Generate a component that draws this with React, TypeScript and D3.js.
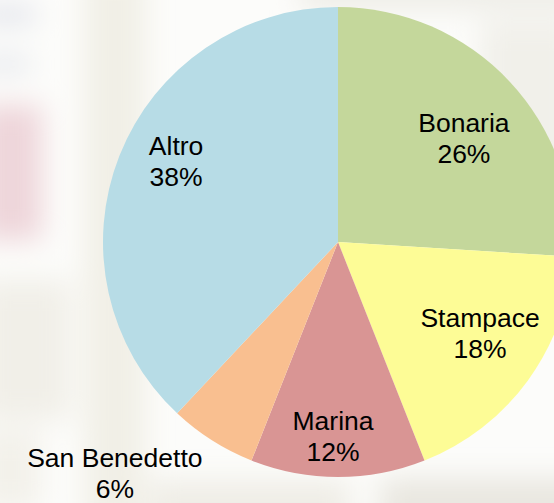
import React from "react";
import * as d3 from "d3";

const categories = ["Bonaria", "Stampace", "Marina", "San Benedetto", "Altro"];
const values = [26, 18, 12, 6, 38];
const colors = ["#c4d79b", "#fdfc96", "#d99594", "#f9bf90", "#b7dce6"];

// layout tweaks for label placement (px offsets from centroid at 0.7r)
const labelAdjust: [number, number][] = [
  [6, 9],
  [9, -5],
  [-5, 30],
  [-135, 93],
  [-9, -20],
];

const W = 554;
const H = 503;
const cx = 338;
const cy = 242;
const R = 235;

export default function App() {
  const pie = d3.pie<number>().sort(null).value((d) => d)(values);
  const arc = d3.arc<d3.PieArcDatum<number>>().innerRadius(0).outerRadius(R);
  const labelArc = d3
    .arc<d3.PieArcDatum<number>>()
    .innerRadius(R * 0.7)
    .outerRadius(R * 0.7);
  const total = d3.sum(values);

  return (
    <svg
      width={W}
      height={H}
      style={{ position: "absolute", left: 0, top: 0, display: "block" }}
    >
      <defs>
        <filter id="blur" x="-20%" y="-20%" width="140%" height="140%">
          <feGaussianBlur stdDeviation="14" />
        </filter>
      </defs>
      <rect x={0} y={0} width={W} height={H} fill="#fcfcfa" />
      <g filter="url(#blur)">
        <rect x={85} y={-30} width={60} height={560} fill="#f1efe6" />
        <rect x={300} y={-30} width={300} height={40} fill="#eeede7" />
        <rect x={480} y={20} width={100} height={200} fill="#f1f0ea" />
        <rect x={380} y={478} width={220} height={60} fill="#e9e7e0" />
        <rect x={150} y={480} width={200} height={60} fill="#efede6" />
        <rect x={-20} y={105} width={62} height={135} fill="#eed5da" />
        <rect x={-20} y={8} width={55} height={14} fill="#d9dce6" />
        <rect x={-20} y={58} width={50} height={12} fill="#dcdfe8" />
        <rect x={-20} y={280} width={90} height={140} fill="#f1efe8" />
        <rect x={-20} y={430} width={60} height={80} fill="#f3f1ea" />
      </g>
      <g transform={`translate(${cx},${cy})`}>
        {pie.map((p, i) => (
          <path key={categories[i]} d={arc(p) || ""} fill={colors[i]} />
        ))}
        {pie.map((p, i) => {
          const [x, y] = labelArc.centroid(p);
          const lx = x + labelAdjust[i][0];
          const ly = y + labelAdjust[i][1];
          const pct = Math.round((values[i] / total) * 100) + "%";
          return (
            <text
              key={"l" + categories[i]}
              x={lx}
              y={ly - 6.5}
              textAnchor="middle"
              fontFamily="'Liberation Sans', Arial, sans-serif"
              fontSize={26.5}
              fill="#000"
            >
              <tspan x={lx} y={ly - 6.5}>
                {categories[i]}
              </tspan>
              <tspan x={lx} y={ly + 24.5}>
                {pct}
              </tspan>
            </text>
          );
        })}
      </g>
    </svg>
  );
}
